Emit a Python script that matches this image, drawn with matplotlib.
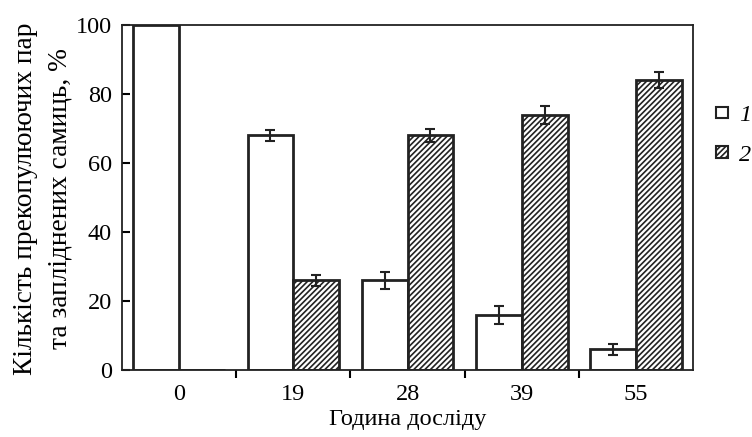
import matplotlib
matplotlib.use("Agg")
import matplotlib.pyplot as plt
from matplotlib.patches import Patch
import numpy as np

plt.rcParams['font.family'] = ['Liberation Serif', 'DejaVu Serif']
plt.rcParams['hatch.linewidth'] = 1.2

# data
hours = ["0", "19", "28", "39", "55"]
series1 = [100, 68, 26, 16, 6]        # 1 - white bars
series1_err = [np.nan, 1.5, 2.5, 2.6, 1.5]
series2 = [0, 26, 68, 74, 84]         # 2 - hatched bars
series2_err = [np.nan, 1.5, 1.8, 2.6, 2.4]

x = np.arange(len(hours))
w = 0.4

fig = plt.figure(figsize=(7.52, 4.37), dpi=100)
ax = fig.add_axes([0.162, 0.153, 0.760, 0.790])

ax.bar(x - w/2, series1, w, color="white", edgecolor="#222222", linewidth=2)
ax.bar(x + w/2, series2, w, color="white", edgecolor="#222222", linewidth=2, hatch="//////")
ax.errorbar(x - w/2, series1, yerr=series1_err, fmt="none", ecolor="#222222",
            elinewidth=1.5, capsize=3.5, capthick=1.5)
ax.errorbar(x + w/2, series2, yerr=series2_err, fmt="none", ecolor="#222222",
            elinewidth=1.5, capsize=3.5, capthick=1.5)

ax.set_xlim(-0.5, len(hours) - 0.5)
ax.set_ylim(0, 100)
ax.set_yticks([0, 20, 40, 60, 80, 100])

# category labels at group centres, tick marks between groups
ax.set_xticks(x)
ax.set_xticklabels(hours)
ax.tick_params(axis="x", length=0, pad=10, labelsize=17.5)
ax.set_xticks(x[:-1] + 0.5, minor=True)
ax.tick_params(axis="x", which="minor", length=6, width=1.5, direction="out")
ax.tick_params(axis="y", direction="in", length=6, width=1.5, labelsize=17.5, pad=7)

for s in ax.spines.values():
    s.set_linewidth(1.3)
    s.set_color("#222222")

ax.set_xlabel("Година досліду", fontsize=17.5, labelpad=3)
fig.text(43 / 752, 1 - 199 / 437, "Кількість прекопулюючих пар\nта запліднених самиць, %",
         rotation=90, ha="center", va="center", fontsize=19.7, linespacing=1.5,
         multialignment="center")

handles = [Patch(facecolor="white", edgecolor="#222222", linewidth=1.5),
           Patch(facecolor="white", edgecolor="#222222", linewidth=1.5, hatch="//////")]
leg = fig.legend(handles, ["1", "2"], loc="upper left", bbox_to_anchor=(0.952, 0.759),
                 frameon=False, handlelength=0.5, handleheight=0.35, handletextpad=0.45,
                 labelspacing=0.75, borderpad=0, borderaxespad=0,
                 prop={"size": 17.5, "style": "italic"})

fig.savefig("out.png", dpi=100)
